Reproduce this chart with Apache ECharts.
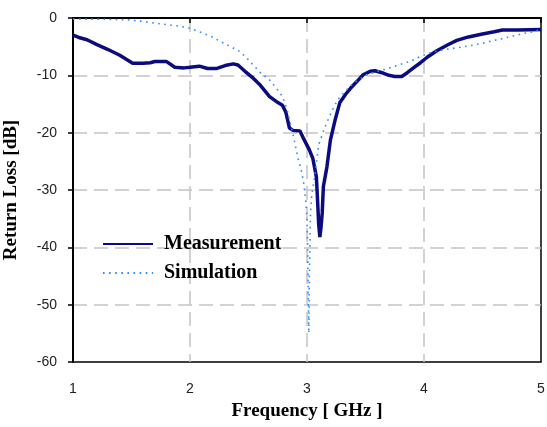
<!DOCTYPE html>
<html>
<head>
<meta charset="utf-8">
<script src="https://cdn.jsdelivr.net/npm/echarts@6/dist/echarts.min.js"></script>
<style>
html,body{margin:0;padding:0;background:#fff;}
#chart{width:547px;height:427px;}
</style>
</head>
<body>
<div id="chart"></div>
<script>
// Measurement (frequency in GHz, return loss in dB)
var measFreq = [1.00,1.05,1.12,1.20,1.30,1.40,1.51,1.60,1.66,1.70,1.80,1.87,1.95,2.00,2.08,2.15,2.23,2.30,2.37,2.41,2.47,2.54,2.60,2.68,2.74,2.79,2.82,2.85,2.88,2.94,2.97,3.02,3.05,3.08,3.09,3.10,3.11,3.12,3.13,3.14,3.17,3.20,3.24,3.28,3.33,3.37,3.43,3.48,3.54,3.58,3.65,3.70,3.75,3.81,3.86,3.91,3.97,4.03,4.11,4.20,4.28,4.38,4.50,4.60,4.67,4.80,5.00];
var measRL   = [-3.0,-3.4,-3.8,-4.6,-5.5,-6.5,-7.9,-7.9,-7.8,-7.6,-7.6,-8.6,-8.7,-8.6,-8.4,-8.8,-8.8,-8.3,-8.0,-8.2,-9.3,-10.5,-11.7,-13.7,-14.6,-15.2,-16.5,-19.2,-19.6,-19.7,-21.0,-23.0,-24.5,-27.7,-31.7,-36.0,-38.2,-36.5,-34.0,-29.4,-26.0,-21.3,-17.8,-14.8,-13.3,-12.3,-11.0,-9.9,-9.3,-9.2,-9.6,-10.0,-10.2,-10.2,-9.5,-8.7,-7.8,-6.8,-5.7,-4.7,-3.9,-3.3,-2.8,-2.4,-2.1,-2.1,-2.0];
// Simulation
var simFreq = [1.00,1.20,1.46,1.60,1.74,1.90,2.00,2.08,2.18,2.26,2.35,2.43,2.50,2.60,2.68,2.74,2.79,2.83,2.86,2.89,2.92,2.95,2.97,2.99,3.00,3.005,3.01,3.015,3.02,3.03,3.04,3.07,3.10,3.15,3.20,3.26,3.33,3.40,3.51,3.60,3.68,3.78,3.88,3.97,4.05,4.15,4.28,4.40,4.50,4.60,4.67,4.77,4.85,4.93,5.00];
var simRL   = [-0.2,-0.2,-0.3,-0.6,-1.0,-1.4,-1.8,-2.4,-3.2,-4.1,-5.0,-5.9,-7.3,-9.5,-10.8,-12.3,-13.7,-16.0,-18.5,-21.2,-24.2,-26.5,-28.5,-32.0,-35.0,-40.0,-48.0,-55.0,-45.0,-34.0,-31.0,-27.0,-22.1,-19.2,-16.8,-14.3,-12.7,-11.3,-9.9,-9.3,-8.9,-8.2,-7.6,-6.7,-6.1,-5.6,-5.2,-4.8,-4.4,-3.9,-3.6,-3.1,-2.7,-2.4,-2.0];
var xTicks = [1,2,3,4,5];
var yTicks = [0,-10,-20,-30,-40,-50,-60];

function zip(a,b){var r=[];for(var i=0;i<a.length;i++)r.push([a[i],b[i]]);return r;}

var chart = echarts.init(document.getElementById('chart'), null, {renderer:'canvas'});
var serifBold = {fontFamily:'Liberation Serif', fontWeight:'bold', fontSize:19, color:'#000'};
chart.setOption({
  backgroundColor:'#fff',
  animation:false,
  grid:{left:73,right:6,top:18,bottom:65,show:true,borderColor:'#000',borderWidth:1.5,backgroundColor:'transparent',
        containLabel:false, outerBoundsMode:'none'},
  legend:{
    orient:'vertical', left:97, top:229, itemWidth:50, itemHeight:14, itemGap:9,
    itemStyle:{opacity:0, borderWidth:0},
    textStyle:Object.assign({padding:[0,0,0,6]}, serifBold, {fontSize:20}),
    data:['Measurement','Simulation']
  },
  xAxis:{
    type:'value', min:xTicks[0], max:xTicks[xTicks.length-1], interval:1,
    name:'Frequency [ GHz ]', nameLocation:'middle', nameGap:40, nameTextStyle:serifBold,
    axisLine:{show:true,lineStyle:{color:'#000',width:2}},
    axisTick:{show:true,length:5,lineStyle:{color:'#000',width:1.5}},
    axisLabel:{margin:20,fontFamily:'Liberation Sans',fontSize:14,color:'#222'},
    splitLine:{show:true,showMinLine:false,showMaxLine:false,lineStyle:{color:'#c4c4c4',width:1.5,type:[14,7]}}
  },
  yAxis:{
    type:'value', min:yTicks[yTicks.length-1], max:yTicks[0], interval:10,
    name:'Return Loss [dB]', nameLocation:'middle', nameGap:52, nameRotate:90, nameTextStyle:serifBold,
    axisLine:{show:true,lineStyle:{color:'#000',width:2}},
    axisTick:{show:true,length:5,lineStyle:{color:'#000',width:1.5}},
    axisLabel:{margin:16,fontFamily:'Liberation Sans',fontSize:14,color:'#222'},
    splitLine:{show:true,showMinLine:false,showMaxLine:false,lineStyle:{color:'#c4c4c4',width:1.5,type:[14,7]}}
  },
  series:[
    {name:'Measurement', type:'line', data:zip(measFreq,measRL), showSymbol:false, symbol:'none',
     lineStyle:{color:'#0b0b80',width:3.5}, itemStyle:{color:'#0b0b80'}, z:3},
    {name:'Simulation', type:'line', data:zip(simFreq,simRL), showSymbol:false, symbol:'none',
     lineStyle:{color:'#2a8cff',width:1.6,type:[1.6,4.5]}, itemStyle:{color:'#2a8cff'}, z:4}
  ]
});
</script>
</body>
</html>
